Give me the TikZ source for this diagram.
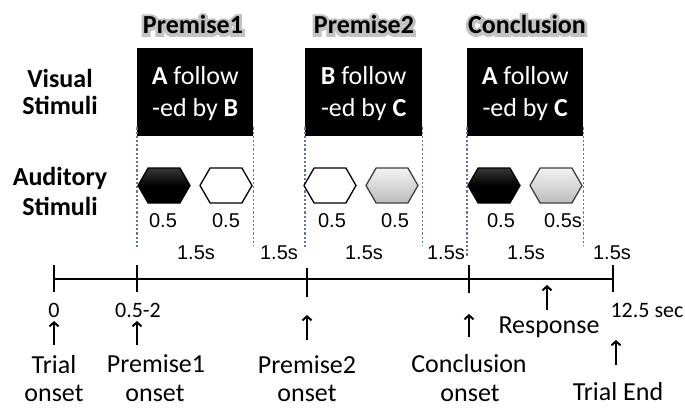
\documentclass[tikz,border=0pt]{standalone}
\usepackage{fontspec}
\setmainfont{Carlito}
\newfontfamily\numfont{Liberation Sans}
\usetikzlibrary{arrows.meta,shapes.symbols}

% bold title with a soft grey halo behind it
\newcommand\halo[1]{\rlap{\color{black!24}\addfontfeature{FakeBold=22}#1}#1}

\definecolor{guidecol}{RGB}{95,120,160}

\begin{document}
\begin{tikzpicture}[x=1pt,y=-1pt,
  side/.style={anchor=base,font=\fontsize{26}{30}\selectfont\bfseries},
  ttl/.style={anchor=base,font=\fontsize{26}{30}\selectfont\bfseries},
  stimbox/.style={fill=black,draw=none,anchor=north west,minimum height=88pt,inner sep=0pt},
  boxtxt/.style={anchor=base,text=white,font=\fontsize{26}{30}\selectfont},
  hex/.style={signal,signal to=east and west,signal pointer angle=120,
    minimum width=52pt,minimum height=35pt,inner sep=0pt,line width=1.3pt},
  hexblack/.style={hex,draw=black,top color=black!78,bottom color=black,middle color=black},
  hexwhite/.style={hex,draw=black,fill=white},
  hexgray/.style={hex,draw=black!75,top color=black!5,bottom color=black!26},
  num/.style={anchor=base,font=\numfont\fontsize{20}{24}\selectfont},
  guide/.style={draw=guidecol,line width=1.2pt,dash pattern=on 2.2pt off 2pt},
  axis/.style={line width=2.6pt},
  lbl/.style={anchor=base,inner sep=1pt,font=\fontsize{26}{30}\selectfont},
  small/.style={anchor=base,font=\fontsize{22}{26}\selectfont},
  uparrow/.style={line width=2pt,-{Straight Barb[length=4pt,width=9pt]}}
]
\useasboundingbox (0,0) rectangle (685,409);

% row labels
\node[side] (vis1) at (60,88) {Visual};
\node[side] (vis2) at (60,115) {Stimuli};
\node[side] (aud1) at (60,185) {Auditory};
\node[side] (aud2) at (60,215) {Stimuli};

% phase titles
\node[ttl] (ttl1) at (193,34) {\halo{Premise1}};
\node[ttl] (ttl2) at (364,34) {\halo{Premise2}};
\node[ttl] (ttl3) at (527,34) {\halo{Conclusion}};

% visual stimulus boxes
\node[stimbox,minimum width=116pt] (b1) at (137,48) {};
\node[stimbox,minimum width=117pt] (b2) at (305,48) {};
\node[stimbox,minimum width=116pt] (b3) at (467,48) {};
\node[boxtxt] (b1a) at (b1.center |- 0,85) {\textbf{A} follow};
\node[boxtxt] (b1b) at (b1.center |- 0,117) {-ed by \textbf{B}};
\node[boxtxt] (b2a) at (b2.center |- 0,85) {\textbf{B} follow};
\node[boxtxt] (b2b) at (b2.center |- 0,117) {-ed by \textbf{C}};
\node[boxtxt] (b3a) at (b3.center |- 0,85) {\textbf{A} follow};
\node[boxtxt] (b3b) at (b3.center |- 0,117) {-ed by \textbf{C}};

% dotted guides below the boxes
\foreach \b/\e in {b1/258,b2/256,b3/266}{
  \draw[guide] ([yshift=9pt]\b.south west) -- ([yshift=9pt]\b.south west |- 0,\e);
}
\foreach \b in {b1,b2,b3}{
  \draw[guide] ([yshift=9pt]\b.south east) -- ([yshift=9pt]\b.south east |- 0,255);
}

% auditory stimuli
\node[hexblack] (h1) at (164,185.5) {};
\node[hexwhite] (h2) at (226,185.5) {};
\node[hexwhite] (h3) at (330,185.5) {};
\node[hexgray]  (h4) at (392,185.5) {};
\node[hexblack] (h5) at (494,185.5) {};
\node[hexgray]  (h6) at (556,185.5) {};

% durations
\node[num] (d1) at (163,227) {0.5};
\node[num] (d2) at (226,227) {0.5};
\node[num] (d3) at (332,227) {0.5};
\node[num] (d4) at (395,227) {0.5};
\node[num] (d5) at (501,227) {0.5};
\node[num] (d6) at (563,227) {0.5s};
\node[num] (i1) at (196,259) {1.5s};
\node[num] (i2) at (279,259) {1.5s};
\node[num] (i3) at (364,259) {1.5s};
\node[num] (i4) at (446,259) {1.5s};
\node[num] (i5) at (526,259) {1.5s};
\node[num] (i6) at (612,259) {1.5s};

% time axis
\coordinate (t0) at (54,279);
\coordinate (t1) at (137,279);
\coordinate (t2) at (307,279);
\coordinate (t3) at (469,279);
\coordinate (t4) at (613,279);
\draw[axis] (t0) -- (t4);
\draw[axis] ([yshift=14pt]t0) -- ([yshift=-13pt]t0);
\draw[axis] ([yshift=14pt]t1) -- ([yshift=-13pt]t1);
\draw[axis] ([yshift=11pt]t2) -- ([yshift=-18pt]t2);
\draw[axis] ([yshift=14pt]t3) -- ([yshift=-14pt]t3);
\draw[axis] ([yshift=14pt]t4) -- ([yshift=-13pt]t4);

% event labels
\node[small] (z0) at (54,317) {0};
\node[small] (z1) at (138,317) {0.5-2};
\node[small,anchor=base west] (zend) at (607,317) {12.5 sec};
\node[lbl] (l0a) at (54,373) {Trial};
\node[lbl] (l0b) at (54,401) {onset};
\node[lbl] (l1a) at (156,372) {Premise1};
\node[lbl] (l1b) at (155,401) {onset};
\node[lbl] (l2a) at (307,373) {Premise2};
\node[lbl] (l2b) at (307,401) {onset};
\node[lbl] (l3a) at (469,372) {Conclusion};
\node[lbl] (l3b) at (470,401) {onset};
\node[lbl] (lr) at (549,333) {Response};
\node[lbl] (le) at (618,400) {Trial End};

% event arrows
\coordinate (a0) at (54,345);
\coordinate (a1) at (137,345);
\coordinate (a2) at (307,340);
\coordinate (a3) at (469,337);
\coordinate (ar) at (547,310);
\coordinate (ae) at (616,365);
\draw[uparrow] (a0) -- ++(0,-24);
\draw[uparrow] (a1) -- ++(0,-24);
\draw[uparrow] (a2) -- ++(0,-25);
\draw[uparrow] (a3) -- ++(0,-23);
\draw[uparrow] (ar) -- ++(0,-25);
\draw[uparrow] (ae) -- ++(0,-25);
\end{tikzpicture}
\end{document}
